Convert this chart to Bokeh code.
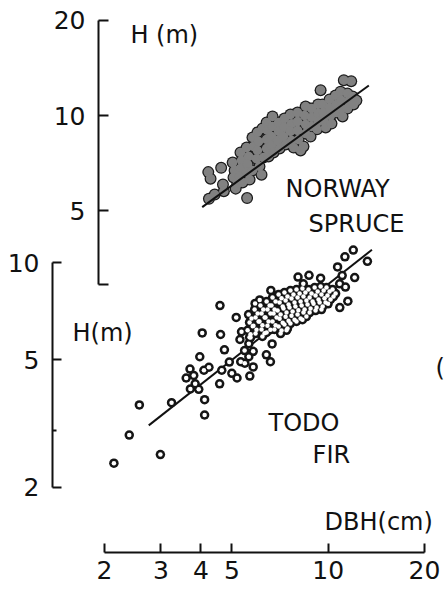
from bokeh.plotting import figure
from bokeh.models import Range1d, LogScale, LogAxis, FixedTicker, Label, PrintfTickFormatter
from bokeh.embed import file_html
from bokeh.resources import INLINE

FONT = "DejaVu Sans"
INK = "#111111"

# ---------------- data ----------------
dbh_ticks = [2, 3, 4, 5, 10, 20]
spruce_h_ticks = [5, 10, 20]
spruce_h_axis_end = 2.92
fir_h_ticks = [2, 5, 10]
fir_h_minor = [3]

# Norway spruce (DBH cm, H m)
spruce_dbh = [4.22, 4.29, 4.63, 4.69, 4.72, 4.42, 4.24, 5.20, 5.14, 5.58, 9.47, 11.19, 11.80,
              5.03, 5.10, 5.06, 5.32, 5.36, 5.32, 5.28, 5.40, 5.56, 5.64, 5.60, 5.56, 5.68,
              5.80, 5.84, 5.80, 6.01, 6.06, 6.01, 5.97, 6.10, 6.19, 6.23, 6.28, 6.42, 6.46,
              6.42, 6.42, 6.51, 6.70, 6.70, 6.65, 6.65, 6.75, 7.00, 7.00, 6.95, 7.05, 7.30,
              7.30, 7.25, 7.36, 7.62, 7.68, 7.62, 7.68, 7.80, 8.02, 8.02, 8.02, 8.08, 8.20,
              8.37, 8.50, 8.44, 8.50, 8.50, 8.87, 8.87, 8.87, 8.81, 9.30, 9.30, 9.30, 9.23,
              9.60, 9.67, 9.67, 9.82, 10.10, 10.10, 10.17, 10.24, 10.54, 10.61, 10.61, 10.93,
              11.00, 11.00, 11.09, 11.49, 11.57, 11.49, 11.92, 12.25, 12.00]
spruce_h = [6.62, 6.31, 6.83, 6.05, 5.76, 5.62, 5.45, 6.08, 5.87, 5.48, 12.03, 12.94, 12.84,
            7.10, 6.70, 6.37, 7.64, 7.20, 6.80, 6.41, 6.14, 7.92, 7.42, 7.00, 6.60, 6.27,
            8.52, 7.98, 6.70, 8.84, 8.27, 7.75, 7.30, 6.90, 6.50, 9.10, 7.36, 9.50, 8.97,
            8.40, 7.86, 7.42, 9.93, 9.23, 8.58, 8.04, 7.64, 9.50, 8.90, 8.33, 7.87, 9.78,
            9.17, 8.58, 8.10, 10.07, 9.42, 8.90, 8.33, 7.92, 10.22, 9.57, 8.97, 8.39, 7.75,
            7.98, 10.68, 10.00, 9.36, 8.77, 10.52, 9.86, 9.23, 8.58, 10.84, 10.15, 9.57, 9.04,
            10.84, 10.22, 9.64, 9.17, 11.24, 10.60, 10.00, 9.43, 11.57, 10.84, 10.22, 11.90,
            11.15, 10.52, 9.93, 11.73, 11.07, 10.52, 11.48, 11.15, 10.84]

# Todo fir (DBH cm, H m)
fir_dbh = [2.14, 2.39, 2.57, 2.99, 3.24, 4.11, 4.11, 3.94, 3.71, 3.60, 3.70, 3.80, 3.84,
           3.97, 4.04, 4.59, 4.61, 4.24, 4.09, 4.58, 4.65, 4.74, 4.91, 5.00, 5.19, 5.16,
           5.30, 5.36, 5.48, 5.65, 5.83, 5.33, 5.49, 5.83, 5.69, 6.41, 6.60, 6.68, 5.72,
           5.65, 11.98, 11.28, 13.26, 10.70, 11.06, 12.10, 10.86, 11.32, 8.05, 8.71, 9.47,
           8.36, 11.52, 10.87, 9.99, 6.62, 5.91, 6.11,
           5.64, 5.68, 5.60, 5.68, 5.89, 5.93, 5.84, 5.93, 6.14, 6.19, 6.10, 6.19, 6.23,
           6.42, 6.46, 6.37, 6.46, 6.42, 6.70, 6.65, 6.75, 6.70, 6.79, 7.00, 7.05, 6.95,
           7.05, 7.00, 7.10, 7.30, 7.36, 7.25, 7.36, 7.30, 7.41, 7.62, 7.68, 7.57, 7.68,
           7.62, 7.96, 8.02, 7.90, 8.02, 7.96, 8.31, 8.37, 8.26, 8.37, 8.31, 8.68, 8.75,
           8.62, 8.75, 9.07, 9.13, 9.00, 9.13, 9.47, 9.53, 9.40, 9.53, 9.88, 9.95, 9.81,
           10.32, 10.39,
           5.76, 5.81, 5.72, 6.02, 6.06, 5.97, 6.27, 6.33, 6.23, 6.33, 6.56, 6.60, 6.51,
           6.60, 6.85, 6.80, 6.90, 6.85, 7.15, 7.21, 7.10, 7.21, 7.15, 7.46, 7.52, 7.41,
           7.52, 7.46, 7.79, 7.85, 7.74, 7.85, 8.14, 8.20, 8.07, 8.20, 8.49, 8.55, 8.44,
           8.55, 8.87, 8.94, 8.81, 9.27, 9.33, 9.20, 9.68, 9.74, 9.61, 10.10, 10.17, 10.55]
fir_h = [2.38, 2.91, 3.61, 2.53, 3.67, 3.36, 3.75, 4.04, 4.05, 4.38, 4.67, 4.46, 4.20,
         5.10, 6.05, 7.36, 5.98, 4.73, 4.63, 4.20, 4.63, 5.36, 4.91, 4.53, 4.38, 6.76,
         5.77, 6.10, 5.33, 5.10, 5.30, 4.92, 4.87, 4.74, 4.44, 5.17, 4.92, 5.59, 5.85,
         5.60, 10.95, 10.43, 10.10, 9.70, 9.12, 8.99, 8.60, 8.40, 9.02, 9.14, 8.95,
         8.60, 7.59, 7.25, 7.45, 8.20, 7.47, 7.66,
         6.90, 6.52, 6.16, 5.86, 7.15, 6.75, 6.37, 6.02, 7.36, 6.95, 6.57, 6.20, 5.90,
         7.57, 7.15, 6.75, 6.37, 6.07, 7.79, 7.36, 6.95, 6.57, 6.20, 7.97, 7.52, 7.10,
         6.70, 6.33, 6.02, 8.08, 7.63, 7.20, 6.79, 6.42, 6.16, 8.19, 7.74, 7.25, 6.84,
         6.47, 8.25, 7.79, 7.31, 6.90, 6.57, 8.31, 7.85, 7.36, 7.00, 6.65, 8.25, 7.79,
         7.41, 7.00, 8.37, 7.91, 7.46, 7.10, 8.43, 7.97, 7.52, 7.15, 8.37, 7.91, 7.52,
         8.25, 7.85,
         6.71, 6.34, 5.99, 6.95, 6.56, 6.19, 7.15, 6.76, 6.39, 6.03, 7.36, 6.95, 6.56,
         6.19, 7.57, 7.15, 6.76, 6.39, 7.75, 7.31, 6.90, 6.51, 6.15, 7.85, 7.42, 7.00,
         6.60, 6.24, 7.96, 7.52, 7.05, 6.65, 8.02, 7.57, 7.11, 6.71, 8.08, 7.63, 7.15,
         6.80, 8.02, 7.57, 7.20, 8.14, 7.69, 7.25, 8.19, 7.75, 7.31, 8.14, 7.69, 8.02]

# fitted allometric lines (end points)
spruce_fit_dbh = [4.04, 13.4]
spruce_fit_h = [5.13, 12.45]
fir_fit_dbh = [2.75, 13.7]
fir_fit_h = [3.12, 10.97]

# ---------------- figure ----------------
p = figure(width=445, height=592, x_axis_type="log", y_axis_type="log",
           x_range=Range1d(0.9463, 23.26), y_range=Range1d(0.9424, 65.41),
           x_axis_location=None, y_axis_location=None, title=None,
           toolbar_location=None, output_backend="svg", min_border=0)
p.extra_y_ranges = {"spruce": Range1d(0.3094, 23.12)}
p.extra_y_scales = {"spruce": LogScale()}
p.outline_line_color = None
p.background_fill_color = "white"
p.border_fill_color = "white"
p.grid.grid_line_color = None
p.grid.visible = False


def style(ax, tick_in, standoff):
    ax.axis_line_width = 2
    ax.axis_line_color = INK
    ax.major_tick_line_width = 2
    ax.major_tick_line_color = INK
    ax.minor_tick_line_width = 2
    ax.minor_tick_line_color = INK
    ax.major_tick_in = tick_in
    ax.major_tick_out = 0
    ax.major_label_standoff = standoff
    ax.major_label_text_font = FONT
    ax.major_label_text_font_size = "25px"
    ax.major_label_text_color = INK
    ax.formatter = PrintfTickFormatter(format="%d")


# Norway spruce height axis
ax_s = LogAxis(y_range_name="spruce",
               ticker=FixedTicker(ticks=spruce_h_ticks, minor_ticks=[spruce_h_axis_end]),
               bounds=(spruce_h_axis_end, 20), fixed_location=1.915)
style(ax_s, 10, 13)
ax_s.minor_tick_in = 10
ax_s.minor_tick_out = 0
p.add_layout(ax_s, "left")

# Todo fir height axis
ax_f = LogAxis(ticker=FixedTicker(ticks=fir_h_ticks, minor_ticks=fir_h_minor),
               bounds=(2, 10), fixed_location=1.3754)
style(ax_f, 9, 13)
ax_f.minor_tick_in = 4
ax_f.minor_tick_out = 0
p.add_layout(ax_f, "left")

# DBH axis
ax_x = LogAxis(ticker=FixedTicker(ticks=dbh_ticks, minor_ticks=[]),
               bounds=(2, 20), fixed_location=1.2549)
style(ax_x, 9, 8)
ax_x.minor_tick_line_color = None
p.add_layout(ax_x, "below")

# Norway spruce: grey filled discs, dark rim only on the outer edge of the cloud
p.scatter(spruce_dbh, spruce_h, y_range_name="spruce", size=12,
          fill_color="#1c1c1c", line_color=None)
p.scatter(spruce_dbh, spruce_h, y_range_name="spruce", size=9.5,
          fill_color="#818181", line_color=None)
p.line(spruce_fit_dbh, spruce_fit_h, y_range_name="spruce", line_width=2, line_color=INK)

# Todo fir: open circles (dark ring, white centre)
p.line(fir_fit_dbh, fir_fit_h, line_width=2, line_color=INK)
p.scatter(fir_dbh, fir_h, size=9.5, fill_color="#151515", line_color=None)
p.scatter(fir_dbh, fir_h, size=4.5, fill_color="white", line_color=None)


def lab(x, y, t, rng="default"):
    p.add_layout(Label(x=x, y=y, y_range_name=rng, text=t, text_font=FONT,
                       text_font_size="24px", text_color=INK,
                       text_align="left", text_baseline="middle"))


lab(2.41, 17.92, "H (m)", "spruce")
lab(7.36, 5.875, "NORWAY", "spruce")
lab(8.68, 4.55, "SPRUCE", "spruce")
lab(1.589, 6.024, "H(m)")
lab(6.51, 3.184, "TODO")
lab(8.94, 2.532, "FIR")
lab(9.74, 1.556, "DBH(cm)")
lab(21.65, 4.688, "(")

open("out.html", "w").write(file_html(p, INLINE))
